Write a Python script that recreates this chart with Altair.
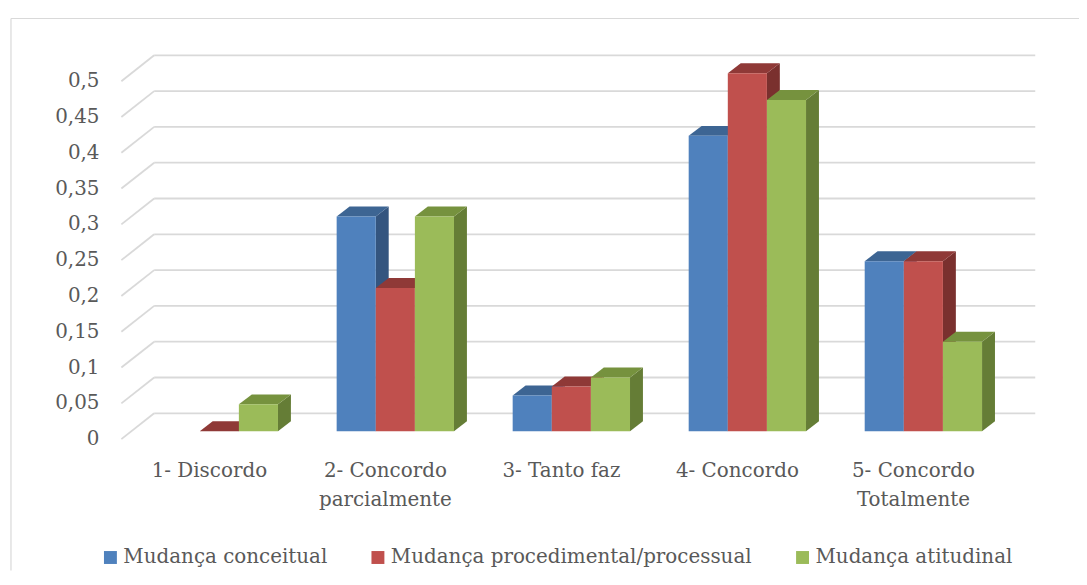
import altair as alt
import pandas as pd

# ---------------- data ----------------
categories = ["1- Discordo", "2- Concordo\nparcialmente", "3- Tanto faz",
              "4- Concordo", "5- Concordo\nTotalmente"]
series_names = ["Mudança conceitual", "Mudança procedimental/processual", "Mudança atitudinal"]
mudanca_conceitual = [None, 0.3, 0.05, 0.4125, 0.2375]
mudanca_procedimental = [0.0, 0.2, 0.0625, 0.5, 0.2375]
mudanca_atitudinal = [0.0375, 0.3, 0.075, 0.4625, 0.125]
y_ticks = [0.0, 0.05, 0.10, 0.15, 0.20, 0.25, 0.30, 0.35, 0.40, 0.45, 0.50]
y_tick_labels = ["0", "0,05", "0,1", "0,15", "0,2", "0,25", "0,3", "0,35", "0,4", "0,45", "0,5"]

# ---------------- styling ----------------
front_colors = ["#4F81BD", "#C0504D", "#9BBB59"]
top_colors = ["#3D6593", "#8F3937", "#76923E"]
side_colors = ["#34557F", "#7A302E", "#657D36"]
text_color = "#595959"
grid_color = "#D9D9D9"
FONT = "DejaVu Serif"

# ---------------- pseudo-3D geometry (in scale units) ----------------
CAT_PX = 177.0   # pixels per category
VAL_PX = 720.0   # pixels per unit of value


def ux(px):
    return px / CAT_PX


def uy(px):
    return px / VAL_PX


FRONT_DX, FRONT_DY = ux(-10), uy(-8)   # front plane relative to bar faces
BACK_DX, BACK_DY = ux(23), uy(18)      # back wall relative to bar faces
BAR_DX, BAR_DY = ux(13), uy(10)        # depth of a bar
GROUP_PAD = 1 / 6
BAR_W = 2 / 9
X_DOMAIN = [FRONT_DX, len(categories) + ux(24)]
Y_DOMAIN = [FRONT_DY, 0.5 + uy(19)]
PLOT_W = round((X_DOMAIN[1] - X_DOMAIN[0]) * CAT_PX)
PLOT_H = round((Y_DOMAIN[1] - Y_DOMAIN[0]) * VAL_PX)

xs = alt.Scale(domain=X_DOMAIN, nice=False, zero=False)
ys = alt.Scale(domain=Y_DOMAIN, nice=False, zero=False)

# ---------------- build tables ----------------
values = [mudanca_conceitual, mudanca_procedimental, mudanca_atitudinal]
rows_front, rows_side, rows_top = [], [], []
for j, (name, vals) in enumerate(zip(series_names, values)):
    for i, v in enumerate(vals):
        if v is None:
            continue
        xl = i + GROUP_PAD + j * BAR_W
        xr = xl + BAR_W
        bid = f"{i}-{j}"
        rows_front.append(dict(series=name, x=xl, x2=xr, y=0.0, y2=v))
        rows_side.append(dict(series=name, bar=bid, x=xr, y=0.0, y2=v))
        rows_side.append(dict(series=name, bar=bid, x=xr + BAR_DX, y=BAR_DY, y2=v + BAR_DY))
        rows_top.append(dict(series=name, bar=bid, y=v, x=xl, x2=xr))
        rows_top.append(dict(series=name, bar=bid, y=v + BAR_DY, x=xl + BAR_DX, x2=xr + BAR_DX))

df_front = pd.DataFrame(rows_front)
df_side = pd.DataFrame(rows_side)
df_top = pd.DataFrame(rows_top)

df_grid = pd.DataFrame(dict(g=y_ticks, label=y_tick_labels))
df_grid["yb"] = df_grid["g"] + BACK_DY
df_grid["yf"] = df_grid["g"] + FRONT_DY
df_grid["xb"] = BACK_DX
df_grid["xe"] = X_DOMAIN[1]
df_grid["xf"] = FRONT_DX

df_cat = pd.DataFrame(dict(cat=categories))
df_cat["x"] = [i + 0.5 + FRONT_DX for i in range(len(categories))]
df_cat["y"] = FRONT_DY

# ---------------- layers ----------------
back_grid = alt.Chart(df_grid).mark_rule(color=grid_color, strokeWidth=1.8).encode(
    x=alt.X("xb:Q", scale=xs, axis=None), x2="xe:Q",
    y=alt.Y("yb:Q", scale=ys, axis=None))

side_grid = alt.Chart(df_grid).mark_rule(color=grid_color, strokeWidth=1.8).encode(
    x=alt.X("xf:Q", scale=xs, axis=None), x2="xb:Q",
    y=alt.Y("yf:Q", scale=ys, axis=None), y2="yb:Q")

y_labels = alt.Chart(df_grid).mark_text(
    align="right", baseline="middle", dx=-22, font=FONT, fontSize=20, color=text_color
).encode(x=alt.X("xf:Q", scale=xs, axis=None),
         y=alt.Y("yf:Q", scale=ys, axis=None), text="label:N")

x_labels = alt.Chart(df_cat).mark_text(
    align="center", baseline="alphabetic", dy=38, lineBreak="\n", lineHeight=29,
    font=FONT, fontSize=20, color=text_color
).encode(x=alt.X("x:Q", scale=xs, axis=None),
         y=alt.Y("y:Q", scale=ys, axis=None), text="cat:N")

sides = alt.Chart(df_side).mark_area(orient="vertical", opacity=1).encode(
    x=alt.X("x:Q", scale=xs, axis=None),
    y=alt.Y("y:Q", scale=ys, axis=None, stack=None), y2="y2:Q",
    detail="bar:N",
    color=alt.Color("series:N", scale=alt.Scale(domain=series_names, range=side_colors), legend=None))

tops = alt.Chart(df_top).mark_area(orient="horizontal", opacity=1).encode(
    y=alt.Y("y:Q", scale=ys, axis=None),
    x=alt.X("x:Q", scale=xs, axis=None, stack=None), x2="x2:Q",
    detail="bar:N",
    color=alt.Color("series:N", scale=alt.Scale(domain=series_names, range=top_colors), legend=None))

fronts = alt.Chart(df_front).mark_rect(opacity=1).encode(
    x=alt.X("x:Q", scale=xs, axis=None), x2="x2:Q",
    y=alt.Y("y:Q", scale=ys, axis=None), y2="y2:Q",
    color=alt.Color("series:N",
                    scale=alt.Scale(domain=series_names, range=front_colors),
                    legend=alt.Legend(
                        title=None, orient="none", legendX=-21, legendY=496,
                        direction="horizontal", symbolType="square", symbolSize=169,
                        symbolStrokeWidth=0, labelFont=FONT, labelFontSize=20,
                        labelColor=text_color, labelOffset=3, columnPadding=40,
                        labelLimit=0, padding=0)))

frame_df = pd.DataFrame(dict(k=[0]))
frame_left = alt.Chart(frame_df).mark_rule(color=grid_color, strokeWidth=1.2).encode(
    x=alt.value(-111), y=alt.value(-36), y2=alt.value(519))
frame_top = alt.Chart(frame_df).mark_rule(color=grid_color, strokeWidth=1.2).encode(
    y=alt.value(-36), x=alt.value(-111), x2=alt.value(963))

chart = alt.layer(
    frame_left, frame_top, back_grid, side_grid, y_labels, x_labels, sides, tops, fronts
).resolve_scale(color="independent").properties(
    width=PLOT_W, height=PLOT_H,
    autosize=alt.AutoSizeParams(type="none"),
    padding={"left": 114, "top": 45, "right": 44, "bottom": 133},
    background="white",
).configure_view(stroke=None)

chart.save("out.html", embed_options={"renderer": "svg", "actions": False})
